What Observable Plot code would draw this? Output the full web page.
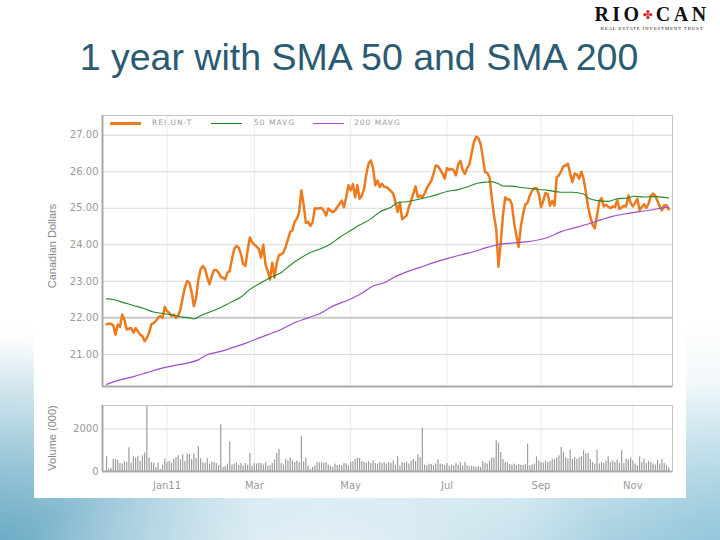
<!DOCTYPE html>
<html><head><meta charset="utf-8">
<script src="https://cdn.jsdelivr.net/npm/d3@7"></script>
<script src="https://cdn.jsdelivr.net/npm/@observablehq/plot@0.6"></script>
<style>
html,body{margin:0;padding:0;}
body{width:720px;height:540px;overflow:hidden;position:relative;font-family:"Liberation Sans",Arial,sans-serif;
background:
 radial-gradient(ellipse 300px 90px at 45% 103%, rgba(255,255,255,0.75), rgba(255,255,255,0) 100%),
 radial-gradient(ellipse 260px 200px at 0% 100%, rgba(105,170,196,0.95), rgba(105,170,196,0) 100%),
 radial-gradient(ellipse 200px 160px at 100% 100%, rgba(140,195,215,0.8), rgba(140,195,215,0) 100%),
 linear-gradient(to bottom,#ffffff 0px,#ffffff 320px,#eaf4f8 420px,#cfe6ef 500px,#b6d8e6 540px);}
.abs{position:absolute;}
#title{left:0;width:718px;top:38px;text-align:center;font-size:37.5px;line-height:38px;color:#2b5b73;white-space:nowrap;}
#panel{left:34px;top:100px;width:652px;height:398px;background:#fff;}
.vlab{width:160px;text-align:center;font-size:11px;color:#888;transform:rotate(-90deg);transform-origin:50% 50%;line-height:12px;white-space:nowrap;}
.lg{font-family:"DejaVu Sans";font-size:7.5px;color:#999;letter-spacing:1px;line-height:8px;white-space:nowrap;}
.sw{height:1px;}
#logo{left:594px;top:4px;width:116px;text-align:center;font-family:"Liberation Serif",serif;font-weight:bold;font-size:20px;letter-spacing:3.5px;color:#111;line-height:20px;white-space:nowrap;}
#logo .leaf{color:#d9262c;font-family:"DejaVu Sans";font-size:12px;letter-spacing:3px;vertical-align:2px;}
#logosub{left:596px;top:26px;width:112px;text-align:center;font-family:"Liberation Serif",serif;font-size:5px;letter-spacing:0.75px;color:#222;line-height:6px;white-space:nowrap;}
svg{position:absolute;left:0;}
</style></head><body>
<div id="panel" class="abs"></div>
<div id="title" class="abs">1 year with SMA 50 and SMA 200</div>
<div id="logo" class="abs">RIO<span class="leaf">✤</span>CAN</div>
<div id="logosub" class="abs">REAL ESTATE INVESTMENT TRUST</div>
<div id="charts"></div>
<script>
// ---------- data ----------
const seriesNames = ["REI.UN-T", "50 MAVG", "200 MAVG"];
const startDate = "2010-11-23";
const holidays = ["2010-12-27","2010-12-28","2011-01-03","2011-02-21","2011-04-22","2011-05-23","2011-07-01","2011-08-01","2011-09-05","2011-10-10"];
const tickMonths = ["2011-01","2011-03","2011-05","2011-07","2011-09","2011-11"];
const tickLabels = ["Jan11","Mar","May","Jul","Sep","Nov"];
const priceTicks = [21,22,23,24,25,26,27];
const volumeTicks = [0,2000];

// daily close (one value per trading day)
const price = [
21.82,21.84,21.84,21.79,21.54,21.82,21.75,22.09,21.94,21.68,
21.70,21.72,21.59,21.72,21.63,21.54,21.50,21.36,21.45,21.59,
21.82,21.86,21.91,22.00,22.05,22.00,22.30,22.18,22.14,22.05,
22.09,22.00,22.05,22.23,22.55,22.83,23.01,22.96,22.69,22.32,
22.55,23.05,23.33,23.42,23.33,23.10,22.92,23.15,23.31,23.31,
23.24,23.12,23.10,23.05,23.24,23.28,23.61,23.88,23.97,23.92,
23.75,23.47,23.42,23.85,24.20,24.07,24.00,23.95,23.88,23.65,
24.00,23.45,23.28,23.05,23.51,23.10,23.50,23.72,23.74,23.79,
23.95,24.15,24.35,24.40,24.63,24.71,24.89,25.49,25.10,24.60,
24.63,24.52,24.61,25.00,24.99,25.00,25.01,24.94,24.80,24.99,
24.94,24.89,24.94,25.03,25.12,25.21,25.03,25.30,25.63,25.49,
25.66,25.30,25.63,25.26,25.35,25.53,25.94,26.22,26.31,26.10,
25.63,25.76,25.58,25.67,25.58,25.58,25.53,25.47,25.40,25.17,
24.90,25.15,24.70,24.75,24.80,25.03,25.21,25.40,25.60,25.30,
25.35,25.30,25.40,25.55,25.65,25.75,25.95,26.17,26.15,26.05,
25.95,25.81,26.10,26.05,26.08,26.04,25.90,26.20,26.30,26.05,
25.94,26.10,26.20,26.50,26.80,26.96,26.92,26.77,26.40,25.99,
25.97,25.85,25.30,24.80,24.43,23.40,24.06,24.80,25.30,25.24,
25.24,25.10,24.60,24.25,23.94,24.50,24.85,25.10,25.15,25.35,
25.48,25.55,25.55,25.40,25.03,25.20,25.42,25.38,25.07,25.20,
25.07,25.85,25.90,26.02,26.15,26.17,26.22,25.95,25.72,25.95,
25.92,25.81,26.00,25.81,25.45,25.05,24.77,24.55,24.45,24.80,
25.18,25.28,25.05,25.10,25.04,25.00,25.05,25.03,25.22,24.98,
25.02,25.07,25.05,25.35,25.15,25.05,25.15,25.26,24.95,25.03,
25.11,25.01,25.12,25.33,25.40,25.35,25.20,25.05,24.94,25.08,
25.08,24.97];

// daily volume, thousands of units
const volume = [
690,110,140,580,570,530,380,350,460,420,
1120,390,690,630,690,470,740,870,3060,630,
410,390,190,390,110,310,580,440,470,390,
580,660,740,550,790,460,820,790,570,820,
600,1170,600,410,380,600,350,440,420,380,
280,2200,190,240,350,1390,310,350,410,280,
380,250,380,300,850,250,380,350,380,380,
310,410,250,280,380,540,850,1050,380,310,
580,500,630,500,420,500,420,1640,460,630,
250,110,190,270,410,410,410,380,410,310,
250,190,350,280,300,270,380,350,270,420,
460,570,630,610,470,420,380,460,380,500,
380,350,420,380,410,350,420,380,500,300,
690,250,420,380,420,350,500,560,470,790,
660,2050,300,270,350,330,280,350,540,350,
330,280,380,240,300,270,380,280,420,260,
440,270,220,250,210,190,240,180,470,380,
350,500,630,630,1450,1320,900,560,420,410,
330,300,350,270,330,300,280,330,1290,270,
310,350,690,500,420,400,500,420,470,580,
560,630,740,1130,900,660,580,1000,580,660,
580,630,690,980,820,850,580,420,350,1000,
350,420,380,500,690,420,500,420,540,380,
980,380,580,540,630,500,350,270,690,420,
580,380,470,420,350,310,530,350,570,380,
300,190];

// moving averages, read at trading-day numbers
const sma50Day = [0,3,8,12,17,21,25,30,34,37,39,42,46,51,55,60,64,69,73,78,82,87,91,96,100,104,109,113,118,122,127,130,134,139,143,148,152,157,161,166,170,172,175,177,182,186,191,197,203,208,213,215,219,224,228,233,235,240,244,251];
const sma50 = [22.52,22.50,22.41,22.34,22.25,22.16,22.12,22.07,22.02,22.00,21.97,22.06,22.16,22.28,22.41,22.57,22.78,22.96,23.10,23.24,23.44,23.65,23.79,23.90,24.02,24.20,24.39,24.54,24.71,24.90,25.03,25.15,25.18,25.24,25.30,25.38,25.46,25.51,25.58,25.69,25.72,25.73,25.67,25.61,25.60,25.56,25.53,25.49,25.44,25.44,25.39,25.28,25.21,25.19,25.26,25.28,25.33,25.31,25.32,25.28];
const sma200Day = [0,6,12,18,24,30,36,41,45,51,57,62,66,72,78,83,90,96,101,108,113,119,125,128,134,140,146,152,158,164,170,176,182,187,191,197,203,208,215,221,226,233,238,244,249,251];
const sma200 = [20.18,20.30,20.39,20.50,20.61,20.69,20.76,20.85,20.99,21.08,21.20,21.30,21.40,21.54,21.68,21.84,22.00,22.14,22.32,22.49,22.64,22.87,22.99,23.10,23.26,23.38,23.51,23.62,23.72,23.81,23.93,24.02,24.05,24.08,24.11,24.20,24.36,24.45,24.57,24.69,24.78,24.86,24.91,24.96,25.02,25.03];

// ---------- trading calendar ----------
const dates = [];
{
  const hol = new Set(holidays);
  const [y, m, d] = startDate.split("-").map(Number);
  let t = Date.UTC(y, m - 1, d);
  while (dates.length < price.length) {
    const dt = new Date(t);
    const iso = dt.toISOString().slice(0, 10);
    const wd = dt.getUTCDay();
    if (wd !== 0 && wd !== 6 && !hol.has(iso)) dates.push(iso);
    t += 86400000;
  }
}
const monthIdx = tickMonths.map(mo => dates.findIndex(s => s.startsWith(mo)));
const labelOf = new Map(monthIdx.map((k, j) => [k, tickLabels[j]]));

const priceData = price.map((v, i) => ({i, v, date: dates[i]}));
const volData = volume.map((v, i) => ({i, v, date: dates[i]}));
const sma50Data = sma50.map((v, j) => ({i: sma50Day[j], v}));
const sma200Data = sma200.map((v, j) => ({i: sma200Day[j], v}));

const colors = ["#ee7a1e", "#23892a", "#a24ccb"];
const xDomain = [-1.8, 252.7];
const yDomain = [20.12, 27.54];

// ---------- price panel ----------
const pricePlot = Plot.plot({
  width: 720, height: 290,
  marginLeft: 102, marginRight: 48, marginTop: 15, marginBottom: 4,
  style: {background: "transparent", fontFamily: "DejaVu Sans", fontSize: "10px", color: "#9a9a9a", overflow: "visible"},
  x: {domain: xDomain, axis: null},
  y: {domain: yDomain, ticks: priceTicks, tickFormat: d => d.toFixed(2), tickSize: 0, tickPadding: 4, label: null},
  marks: [
    Plot.ruleX(monthIdx, {stroke: "#ececec"}),
    Plot.ruleY(priceTicks.filter(d => d !== 22), {stroke: "#d9d9d9"}),
    Plot.ruleY([22], {stroke: "#c8c8c8", strokeWidth: 2}),
    Plot.line(priceData, {x: "i", y: "v", stroke: colors[0], strokeWidth: 2.5}),
    Plot.line(sma50Data, {x: "i", y: "v", stroke: colors[1], strokeWidth: 1.1, curve: "monotone-x"}),
    Plot.line(sma200Data, {x: "i", y: "v", stroke: colors[2], strokeWidth: 1.2, curve: "monotone-x"}),
    Plot.frame({stroke: "#c4c4c4"}),
    Plot.ruleX([xDomain[0]], {stroke: "#a8a8a8", strokeWidth: 2}),
    Plot.ruleY([yDomain[0]], {stroke: "#a8a8a8", strokeWidth: 2})
  ]
});
pricePlot.style.top = "100px";

// ---------- volume panel ----------
const volPlot = Plot.plot({
  width: 720, height: 101,
  marginLeft: 102, marginRight: 48, marginTop: 10, marginBottom: 25,
  style: {background: "transparent", fontFamily: "DejaVu Sans", fontSize: "10px", color: "#9a9a9a", overflow: "visible"},
  x: {domain: xDomain, ticks: monthIdx, tickFormat: d => labelOf.get(d), tickSize: 0, tickPadding: 10, label: null},
  y: {domain: [0, 3106], ticks: volumeTicks, tickFormat: d => String(d), tickSize: 0, tickPadding: 4, label: null, clamp: true},
  marks: [
    Plot.ruleX(monthIdx, {stroke: "#ececec"}),
    Plot.ruleY([2000], {stroke: "#d9d9d9"}),
    Plot.ruleX(volData, {x: "i", y1: 0, y2: "v", stroke: "#9c9c9c", strokeWidth: 1.2}),
    Plot.frame({stroke: "#c4c4c4"}),
    Plot.ruleX([xDomain[0]], {stroke: "#a8a8a8", strokeWidth: 2}),
    Plot.ruleY([0], {stroke: "#a8a8a8", strokeWidth: 2})
  ]
});
volPlot.style.top = "395px";

const holder = document.getElementById("charts");
holder.appendChild(pricePlot);
holder.appendChild(volPlot);

// ---------- axis titles & legend (HTML text) ----------
function addDiv(cls, text, css) {
  const el = document.createElement("div");
  el.className = "abs " + cls;
  el.textContent = text;
  Object.assign(el.style, css);
  document.body.appendChild(el);
  return el;
}
addDiv("vlab", "Canadian Dollars", {left: (52 - 80) + "px", top: (246 - 6) + "px"});
addDiv("vlab", "Volume (000)", {left: (52 - 80) + "px", top: (438 - 6) + "px"});

const lgSwatchLeft = [110, 211, 313];
const lgTextLeft = [152, 254, 354];
const lgThick = [3, 1, 1];
seriesNames.forEach((name, k) => {
  addDiv("sw", "", {left: lgSwatchLeft[k] + "px", top: (123 - Math.floor(lgThick[k] / 2)) + "px", width: "31px", height: lgThick[k] + "px", background: colors[k]});
  addDiv("lg", name, {left: lgTextLeft[k] + "px", top: "119px"});
});
</script>
</body></html>
